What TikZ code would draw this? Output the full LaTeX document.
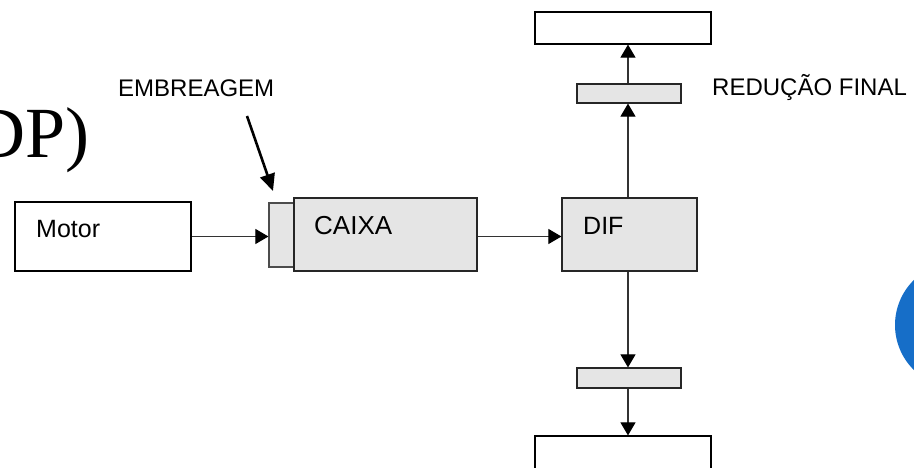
\documentclass[tikz,border=0pt]{standalone}
\usepackage{fontspec}
\setmainfont{Liberation Sans}
\newfontfamily\seriffam{Liberation Serif}
\usetikzlibrary{arrows.meta}
\definecolor{boxgray}{HTML}{E5E5E5}
\definecolor{circblue}{RGB}{22,110,200}
\begin{document}
\begin{tikzpicture}[x=1pt,y=-1pt,
  whitebox/.style={draw=black,line width=1.2pt,fill=white,inner sep=0pt},
  graybox/.style={draw=black!85,line width=1.2pt,fill=boxgray,inner sep=0pt},
  lbl/.style={inner sep=0pt,font=\fontsize{24}{28}\selectfont},
  arr/.style={draw=black!80,line width=1.1pt,-{Triangle[length=13pt,width=15pt,color=black]}},
  bigarr/.style={draw=black,line width=2.6pt,-{Triangle[length=17pt,width=15pt]}}]
\useasboundingbox (0,0) rectangle (914,468);
\clip (0,0) rectangle (914,468);
% blue circle at right edge
\fill[circblue] (958,325) circle[radius=63];
% big serif text cut at the left edge
\node[inner sep=0pt,anchor=base east,font=\seriffam\fontsize{72}{80}\selectfont] (dp) at (90,158) {DP)};
% boxes
\node[whitebox,minimum width=176pt,minimum height=69pt] (motor) at (103,236.5) {};
\node[graybox,draw=black!70,minimum width=25pt,minimum height=64pt] (clutch) at (281.5,235) {};
\node[graybox,minimum width=183pt,minimum height=73pt] (caixa) at (385.5,234.5) {};
\node[graybox,minimum width=135pt,minimum height=73pt] (dif) at (629.5,234.5) {};
\node[graybox,minimum width=104pt,minimum height=19pt] (tops) at (629,93.5) {};
\node[whitebox,minimum width=176pt,minimum height=32pt] (topb) at (623,28) {};
\node[graybox,minimum width=104pt,minimum height=20pt] (bots) at (629,378) {};
\node[whitebox,minimum width=176pt,minimum height=64pt] (botb) at (623,468) {};
% texts
\node[lbl,anchor=base west,font=\fontsize{25}{29}\selectfont] (tmotor) at (36,238) {Motor};
\node[lbl,anchor=base west,font=\fontsize{26}{30}\selectfont] (tcaixa) at (314,234) {CAIXA};
\node[lbl,anchor=base west,font=\fontsize{25}{29}\selectfont] (tdif) at (583,234) {DIF};
\node[lbl,anchor=base west] (temb) at (118,97) {EMBREAGEM};
\node[lbl,anchor=base west] (tred) at (712,96) {REDUÇÃO FINAL};
% connectors
\coordinate (vx) at (628,0);
\draw[arr] (motor.east) -- (clutch.west |- motor.east);
\draw[arr] (caixa.east |- motor.east) -- (dif.west |- motor.east);
\draw[arr] (dif.north -| vx) -- (tops.south -| vx);
\draw[arr] (tops.north -| vx) -- (topb.south -| vx);
\draw[arr] (dif.south -| vx) -- (bots.north -| vx);
\draw[arr] (bots.south -| vx) -- (botb.north -| vx);
\coordinate (embstart) at (247,116);
\coordinate (embend) at (273,191);
\draw[bigarr] (embstart) -- (embend);
\end{tikzpicture}
\end{document}
